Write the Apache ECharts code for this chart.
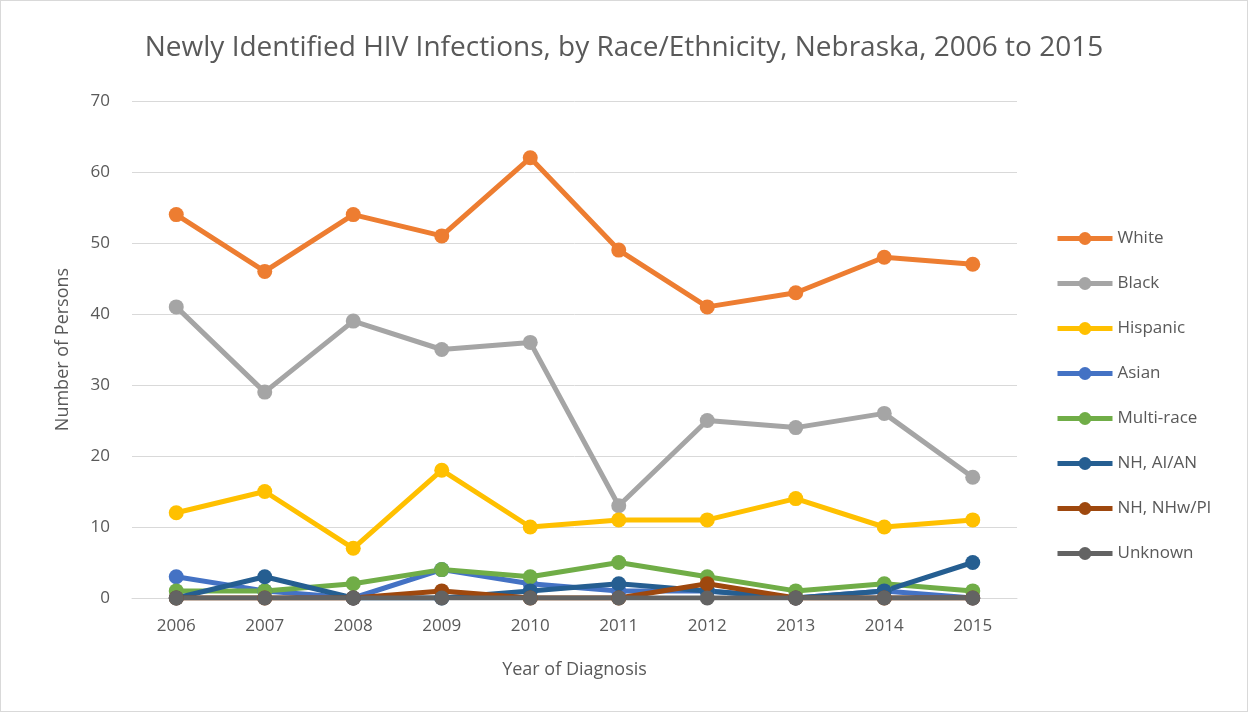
<!DOCTYPE html>
<html><head><meta charset="utf-8">
<script src="https://cdn.jsdelivr.net/npm/echarts@6/dist/echarts.min.js"></script>
<style>html,body{margin:0;padding:0;background:#fff}#c{width:1246px;height:710px;border:1px solid #d9d9d9}</style>
</head><body><div id="c"></div>
<script>
const years = ['2006','2007','2008','2009','2010','2011','2012','2013','2014','2015'];
const white = [54,46,54,51,62,49,41,43,48,47];
const black = [41,29,39,35,36,13,25,24,26,17];
const hispanic = [12,15,7,18,10,11,11,14,10,11];
const asian = [3,1,0,4,2,1,1,0,1,0];
const multiRace = [1,1,2,4,3,5,3,1,2,1];
const aian = [0,3,0,0,1,2,1,0,1,5];
const nhpi = [0,0,0,1,0,0,2,0,0,0];
const unknown = [0,0,0,0,0,0,0,0,0,0];
const names = ['White','Black','Hispanic','Asian','Multi-race','NH, AI/AN','NH, NHw/PI','Unknown'];
const colors = ['#ED7D31','#A5A5A5','#FFC000','#4472C4','#70AD47','#255E91','#9E480E','#636363'];
const data = [white,black,hispanic,asian,multiRace,aian,nhpi,unknown];
const font = 'Open Sans';
const chart = echarts.init(document.getElementById('c'));
chart.setOption({
  animation:false,
  title:{text:'Newly Identified HIV Infections, by Race/Ethnicity, Nebraska, 2006 to 2015',left:'center',top:28,
    textStyle:{fontFamily:font,fontSize:28,fontWeight:'normal',color:'#595959'}},
  grid:{left:131,right:230,top:100,bottom:113},
  legend:{orient:'vertical',left:1049,top:224,itemWidth:55,itemHeight:16,itemGap:28,
    lineStyle:{width:5},
    textStyle:{fontFamily:font,fontSize:17,color:'#595959'},data:names},
  xAxis:{type:'category',data:years,boundaryGap:true,
    axisLine:{lineStyle:{color:'#d9d9d9',width:1}},axisTick:{show:false},
    axisLabel:{fontFamily:font,fontSize:17,color:'#595959',margin:20},
    name:'Year of Diagnosis',nameLocation:'middle',nameGap:63,
    nameTextStyle:{fontFamily:font,fontSize:18,color:'#595959'}},
  yAxis:{type:'value',min:0,max:70,interval:10,
    axisLine:{show:false},axisTick:{show:false},
    splitLine:{lineStyle:{color:'#d9d9d9',width:1}},
    axisLabel:{fontFamily:font,fontSize:17,color:'#595959',margin:22},
    name:'Number of Persons',nameLocation:'middle',nameGap:60,nameRotate:90,
    nameTextStyle:{fontFamily:font,fontSize:18,color:'#595959'}},
  series:names.map((n,i)=>({name:n,type:'line',data:data[i],color:colors[i],
    symbol:'circle',symbolSize:15,lineStyle:{width:5,color:colors[i]},itemStyle:{color:colors[i]}}))
});
</script></body></html>
